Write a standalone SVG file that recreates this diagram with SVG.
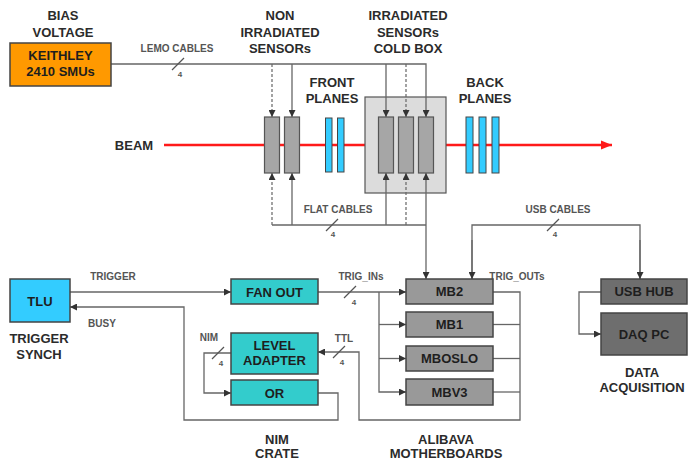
<svg xmlns="http://www.w3.org/2000/svg" width="688" height="462" viewBox="0 0 688 462">
<defs>
<style>
.h{font-family:"Liberation Sans",Arial,sans-serif;font-weight:bold;font-size:13px;fill:#2b2b2b;text-anchor:middle}
.bt{font-family:"Liberation Sans",Arial,sans-serif;font-weight:bold;font-size:13px;fill:#1e1e1e;text-anchor:middle}
.l{font-family:"Liberation Sans",Arial,sans-serif;font-weight:bold;font-size:10px;fill:#555;text-anchor:middle}
.n{font-family:"Liberation Sans",Arial,sans-serif;font-weight:bold;font-size:8px;fill:#555;text-anchor:middle}
.c{fill:none;stroke:#666;stroke-width:1.3}
.d{fill:none;stroke:#666;stroke-width:1.2;stroke-dasharray:3,2}
.s{stroke:#555;stroke-width:1.2}
.box{stroke:#444;stroke-width:1.5}
.sens{fill:#A6A6A6;stroke:#555;stroke-width:1.2}
.pl{fill:#33CCFF;stroke:#444;stroke-width:1}
.teal{fill:#33CCCC}
.mb{fill:#999999}
.dk{fill:#6E6E6E}
</style>
<marker id="ah" viewBox="0 0 10 10" refX="10" refY="5" markerWidth="7" markerHeight="7" orient="auto" markerUnits="userSpaceOnUse"><path d="M0,0 L10,5 L0,10 z" fill="#333"/></marker>
<marker id="ar" viewBox="0 0 10 10" refX="10" refY="5" markerWidth="11" markerHeight="11" orient="auto" markerUnits="userSpaceOnUse"><path d="M0,1 L10,5 L0,9 z" fill="#FF1A1A"/></marker>
</defs>
<rect width="688" height="462" fill="#fff"/>

<g id="beam">
<line x1="164" y1="145" x2="612" y2="145" stroke="#FF1A1A" stroke-width="2.5" marker-end="url(#ar)"/>
<text class="h" x="134" y="150">BEAM</text>
</g>

<g id="cold-box">
<text class="h" x="408" y="20">IRRADIATED</text>
<text class="h" x="408" y="37">SENSORs</text>
<text class="h" x="408" y="53">COLD BOX</text>
<rect x="365" y="97" width="81" height="96" fill="#DCDCDC" stroke="#555" stroke-width="1.2"/>
<rect class="sens" x="378.5" y="117" width="15" height="56"/>
<rect class="sens" x="398.5" y="117" width="15" height="56"/>
<rect class="sens" x="418.5" y="117" width="15" height="56"/>
</g>

<g id="connectors">
<!-- LEMO cables -->
<polyline class="c" points="111,64 426,64 426,117" marker-end="url(#ah)"/>
<line class="d" x1="272" y1="64" x2="272" y2="117" marker-end="url(#ah)"/>
<line class="c" x1="292" y1="64" x2="292" y2="117" marker-end="url(#ah)"/>
<line class="c" x1="386" y1="64" x2="386" y2="117" marker-end="url(#ah)"/>
<line class="d" x1="406" y1="64" x2="406" y2="117" marker-end="url(#ah)"/>
<line class="s" x1="172" y1="70" x2="184" y2="58"/>
<text class="l" x="177" y="52">LEMO CABLES</text>
<text class="n" x="180" y="77">4</text>
<!-- flat cables -->
<line class="c" x1="272" y1="225" x2="426" y2="225"/>
<line class="d" x1="272" y1="225" x2="272" y2="173" marker-end="url(#ah)"/>
<line class="c" x1="292" y1="225" x2="292" y2="173" marker-end="url(#ah)"/>
<line class="c" x1="386" y1="225" x2="386" y2="173" marker-end="url(#ah)"/>
<line class="d" x1="406" y1="225" x2="406" y2="173" marker-end="url(#ah)"/>
<line class="c" x1="426" y1="225" x2="426" y2="173" marker-end="url(#ah)"/>
<line class="c" x1="426" y1="225" x2="426" y2="279" marker-end="url(#ah)"/>
<line class="s" x1="326" y1="231" x2="338" y2="219"/>
<text class="l" x="338" y="213">FLAT CABLES</text>
<text class="n" x="333" y="237">4</text>
<!-- USB cables -->
<polyline class="c" points="472,279 472,225 640,225 640,279" />
<line class="c" x1="472" y1="240" x2="472" y2="279" marker-end="url(#ah)"/>
<line class="c" x1="640" y1="240" x2="640" y2="279" marker-end="url(#ah)"/>
<line class="s" x1="547" y1="231" x2="559" y2="219"/>
<text class="l" x="558" y="213">USB CABLES</text>
<text class="n" x="555" y="237">4</text>
<!-- USB HUB to DAQ PC -->
<polyline class="c" points="601,292 579,292 579,334 601,334" marker-end="url(#ah)"/>
<!-- trigger -->
<line class="c" x1="70" y1="292" x2="231" y2="292" marker-end="url(#ah)"/>
<text class="l" x="113" y="280">TRIGGER</text>
<!-- busy -->
<polyline class="c" points="318,393 338,393 338,420 184,420 184,307 70,307" marker-end="url(#ah)"/>
<text class="l" x="102" y="327">BUSY</text>
<!-- trig_ins -->
<line class="c" x1="318" y1="292" x2="406" y2="292" marker-end="url(#ah)"/>
<polyline class="c" points="379,292 379,392 406,392" marker-end="url(#ah)"/>
<line class="c" x1="379" y1="324.5" x2="406" y2="324.5" marker-end="url(#ah)"/>
<line class="c" x1="379" y1="358.5" x2="406" y2="358.5" marker-end="url(#ah)"/>
<line class="s" x1="344" y1="298" x2="356" y2="286"/>
<text class="l" x="361" y="280">TRIG_INs</text>
<text class="n" x="354" y="305">4</text>
<!-- trig_outs -->
<polyline class="c" points="493,292 520,292 520,420 359,420 359,352 318,352" marker-end="url(#ah)"/>
<line class="c" x1="493" y1="324.5" x2="520" y2="324.5"/>
<line class="c" x1="493" y1="358.5" x2="520" y2="358.5"/>
<line class="c" x1="493" y1="392" x2="520" y2="392"/>
<text class="l" x="517" y="280">TRIG_OUTs</text>
<line class="s" x1="333" y1="358" x2="345" y2="346"/>
<text class="l" x="344" y="342">TTL</text>
<text class="n" x="342" y="365">4</text>
<!-- NIM -->
<polyline class="c" points="231,353 204,353 204,393 231,393" marker-end="url(#ah)"/>
<line class="s" x1="212" y1="359" x2="224" y2="347"/>
<text class="l" x="209" y="341">NIM</text>
<text class="n" x="221" y="366">4</text>
</g>

<g id="keithley">
<text class="h" x="63" y="20">BIAS</text>
<text class="h" x="63" y="37">VOLTAGE</text>
<rect class="box" x="10" y="43" width="101" height="43" fill="#FF9900"/>
<text class="bt" x="60.5" y="60">KEITHLEY</text>
<text class="bt" x="60.5" y="76">2410 SMUs</text>
</g>

<g id="non-irradiated-sensors">
<text class="h" x="280" y="20">NON</text>
<text class="h" x="280" y="37">IRRADIATED</text>
<text class="h" x="280" y="53">SENSORs</text>
<rect class="sens" x="264.5" y="117" width="15" height="56"/>
<rect class="sens" x="284.5" y="117" width="15" height="56"/>
</g>

<g id="front-planes">
<text class="h" x="332" y="87">FRONT</text>
<text class="h" x="332" y="103">PLANES</text>
<rect class="pl" x="325.5" y="118" width="6.5" height="54"/>
<rect class="pl" x="337.5" y="118" width="6.5" height="54"/>
</g>

<g id="back-planes">
<text class="h" x="485" y="87">BACK</text>
<text class="h" x="485" y="103">PLANES</text>
<rect class="pl" x="466" y="117" width="7" height="56"/>
<rect class="pl" x="479" y="117" width="7" height="56"/>
<rect class="pl" x="492" y="117" width="7" height="56"/>
</g>

<g id="tlu">
<rect class="box" x="10" y="279" width="60" height="43" fill="#33CCFF"/>
<text class="bt" x="40" y="305.5">TLU</text>
<text class="h" x="39" y="343">TRIGGER</text>
<text class="h" x="39" y="359">SYNCH</text>
</g>

<g id="fan-out">
<rect class="box teal" x="231" y="279" width="87" height="25"/>
<text class="bt" x="274.5" y="296.5">FAN OUT</text>
</g>

<g id="level-adapter">
<rect class="box teal" x="231" y="333" width="87" height="41"/>
<text class="bt" x="274.5" y="350">LEVEL</text>
<text class="bt" x="274.5" y="365">ADAPTER</text>
</g>

<g id="or">
<rect class="box teal" x="231" y="380" width="87" height="25"/>
<text class="bt" x="274.5" y="397.5">OR</text>
</g>

<g id="nim-crate">
<text class="h" x="277" y="444">NIM</text>
<text class="h" x="277" y="458">CRATE</text>
</g>

<g id="mb2">
<rect class="box mb" x="406" y="279" width="87" height="25"/>
<text class="bt" x="449.5" y="296">MB2</text>
</g>
<g id="mb1">
<rect class="box mb" x="406" y="312" width="87" height="25"/>
<text class="bt" x="449.5" y="329">MB1</text>
</g>
<g id="mboslo">
<rect class="box mb" x="406" y="346" width="87" height="25"/>
<text class="bt" x="449.5" y="363">MBOSLO</text>
</g>
<g id="mbv3">
<rect class="box mb" x="406" y="379" width="87" height="26"/>
<text class="bt" x="449.5" y="396.5">MBV3</text>
</g>
<g id="alibava">
<text class="h" x="446" y="444">ALIBAVA</text>
<text class="h" x="446" y="458">MOTHERBOARDS</text>
</g>

<g id="usb-hub">
<rect class="box dk" x="601" y="279" width="86" height="25"/>
<text class="bt" x="644" y="296">USB HUB</text>
</g>
<g id="daq-pc">
<rect class="box dk" x="601" y="313" width="86" height="42"/>
<text class="bt" x="644" y="338.5">DAQ PC</text>
<text class="h" x="642" y="377">DATA</text>
<text class="h" x="642" y="392">ACQUISITION</text>
</g>
</svg>
